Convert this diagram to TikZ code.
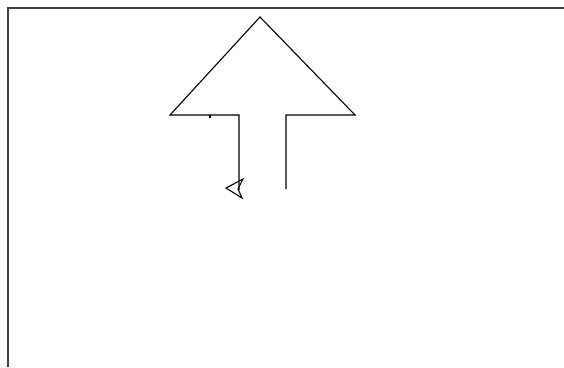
\documentclass[tikz,border=0pt]{standalone}
\begin{document}
\begin{tikzpicture}[x=1pt,y=-1pt,
  frame/.style={line width=1.4pt,draw=black!75},
  pen/.style={line width=1.1pt,line join=miter}]
\useasboundingbox (0,0) rectangle (564,367);
\coordinate (tl) at (8,8);
\coordinate (tr) at (564,8);
\coordinate (bl) at (8,367);
\draw[frame] (bl) -- (tl) -- (tr);
\coordinate (apex) at (260,17);
\coordinate (lb) at (170,115);
\coordinate (rb) at (355,115);
\coordinate (sl) at (239,115);
\coordinate (sr) at (286,115);
\coordinate (slb) at (239,190);
\coordinate (srb) at (286,189);
\draw[pen] (slb) -- (sl) -- (lb) -- (apex) -- (rb) -- (sr) -- (srb);
\draw[pen] (210,115) -- (210,118);
\draw[pen] (226,188) -- (243,179) -- (238,189) -- (242,198) -- cycle;
\end{tikzpicture}
\end{document}
